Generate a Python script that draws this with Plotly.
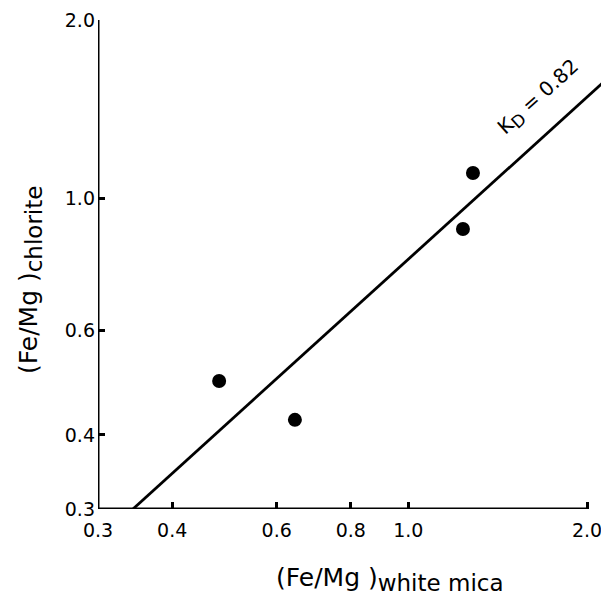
import math
import plotly.graph_objects as go

# Data
white_mica = [0.480, 0.644, 1.236, 1.285]
chlorite = [0.493, 0.424, 0.889, 1.105]

# KD = 0.82 reference line (endpoints)
kd_line_x = [0.3436, 2.13]
kd_line_y = [0.30, 1.57]

x_ticks = [0.3, 0.4, 0.6, 0.8, 1.0, 2.0]
x_ticklabels = ["0.3", "0.4", "0.6", "0.8", "1.0", "2.0"]
y_ticks = [0.3, 0.4, 0.6, 1.0, 2.0]
y_ticklabels = ["0.3", "0.4", "0.6", "1.0", "2.0"]

# page body has an 8px default margin
OFF = 8
W, H = 609 - OFF, 597 - OFF
ml, mt = 98 - OFF, 20 - OFF
pw = 507
ph = 489
mr = W - ml - pw
mb = H - mt - ph
per_decade = ph / math.log10(2.0 / 0.3)
x0 = math.log10(0.3)
x1 = x0 + pw / per_decade


def px(xp):
    return (xp - OFF - ml) / pw


def py(yp):
    return (H - mb - (yp - OFF)) / ph


FONT = "DejaVu Sans"
fig = go.Figure()

# axis lines (from first to last tick)
fig.add_trace(go.Scatter(x=[x_ticks[0], x_ticks[-1]], y=[y_ticks[0], y_ticks[0]],
                         mode="lines", line=dict(color="black", width=3),
                         hoverinfo="skip", showlegend=False, cliponaxis=False))
fig.add_trace(go.Scatter(x=[x_ticks[0], x_ticks[0]], y=[y_ticks[0], y_ticks[-1]],
                         mode="lines", line=dict(color="black", width=3),
                         hoverinfo="skip", showlegend=False, cliponaxis=False))

fig.add_trace(go.Scatter(x=kd_line_x, y=kd_line_y, mode="lines",
                         line=dict(color="black", width=2.8), showlegend=False))
fig.add_trace(go.Scatter(x=white_mica, y=chlorite, mode="markers",
                         marker=dict(color="black", size=14), showlegend=False))

fig.update_xaxes(type="log", range=[x0, x1], tickvals=x_ticks, ticktext=x_ticklabels,
                 ticks="inside", ticklen=7, tickwidth=2.5, tickcolor="black",
                 showgrid=False, zeroline=False, showline=False, automargin=False,
                 ticklabelstandoff=8,
                 tickfont=dict(family=FONT, size=19, color="black"))
fig.update_yaxes(type="log", range=[math.log10(0.3), math.log10(2.0)], tickvals=y_ticks,
                 ticktext=y_ticklabels, ticks="inside", ticklen=7, tickwidth=2.5,
                 tickcolor="black", showgrid=False, zeroline=False, showline=False,
                 automargin=False, ticklabelstandoff=2,
                 tickfont=dict(family=FONT, size=19, color="black"))

fig.add_annotation(xref="paper", yref="paper", x=px(390), y=py(579),
                   xanchor="center", yanchor="middle",
                   text="(Fe/Mg )<sub><span style='font-size:23px'>white mica</span></sub>",
                   showarrow=False,
                   font=dict(family=FONT, size=25, color="black"))
fig.add_annotation(xref="paper", yref="paper", x=px(30), y=py(280),
                   xanchor="center", yanchor="middle",
                   text="(Fe/Mg )<sub><span style='font-size:23px'>chlorite</span></sub>",
                   showarrow=False, textangle=-90,
                   font=dict(family=FONT, size=25, color="black"))
fig.add_annotation(xref="paper", yref="paper", x=px(539), y=py(98),
                   xanchor="center", yanchor="middle",
                   text="K<sub><span style='font-size:17px'>D</span></sub> = 0.82",
                   showarrow=False, textangle=-42,
                   font=dict(family=FONT, size=20, color="black"))

fig.update_layout(width=W, height=H, margin=dict(l=ml, r=mr, t=mt, b=mb, autoexpand=False),
                  plot_bgcolor="white", paper_bgcolor="white")
fig.write_html("out.html")
